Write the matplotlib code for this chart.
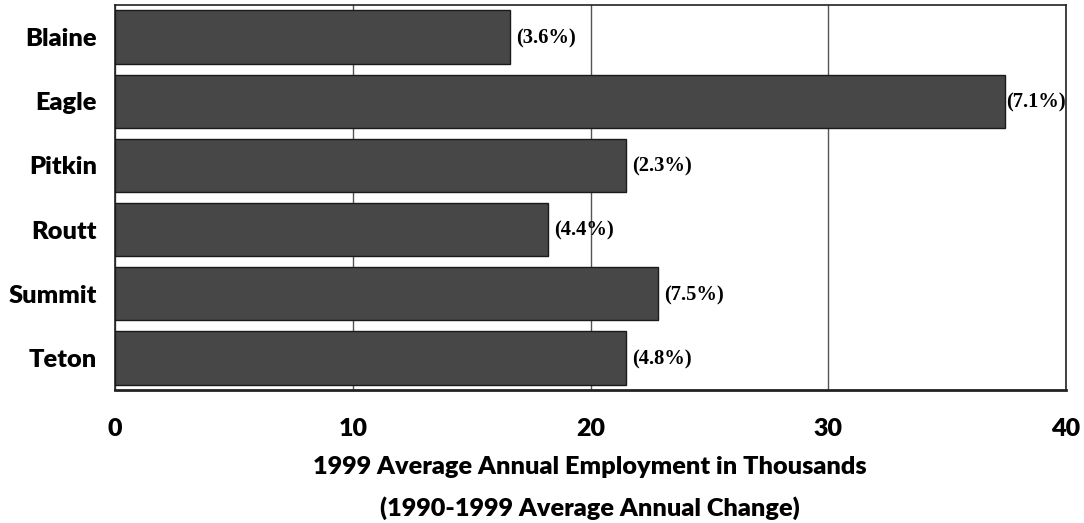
import matplotlib.pyplot as plt
import numpy as np

# 1999 employment (thousands) and 1990-1999 average annual change
counties = ['Blaine', 'Eagle', 'Pitkin', 'Routt', 'Summit', 'Teton']
employment = [16.6, 37.45, 21.5, 18.2, 22.85, 21.5]
change_pct = [3.6, 7.1, 2.3, 4.4, 7.5, 4.8]

fig = plt.figure(figsize=(10.84, 5.23), dpi=100)
ax = fig.add_axes([0.1061, 0.2543, 0.8773, 0.7361])

y = np.arange(len(counties))
ax.barh(y, employment, height=0.83, color='#474747',
        edgecolor='#1a1a1a', linewidth=1.0, zorder=3)

# change labels; the long Eagle bar gets its label pulled in tight
for yi, val, pct in zip(y, employment, change_pct):
    pad = 0.5 if val > 35 else 4.5
    ax.annotate('(%.1f%%)' % pct, xy=(val, yi), xytext=(pad, -1),
                textcoords='offset points', ha='left', va='center',
                fontfamily='Liberation Serif', fontweight='bold',
                fontsize=14.8, zorder=4)

ax.set_xlim(0, 40)
ax.set_ylim(len(counties) - 0.5, -0.5)
ax.set_xticks([0, 10, 20, 30, 40])
ax.set_yticks(y)
ax.set_yticklabels(counties)
ax.xaxis.grid(True, color='#555555', linewidth=1.0, zorder=0)
ax.tick_params(length=0)
ax.tick_params(axis='x', pad=20)
ax.tick_params(axis='y', pad=13)
for lab in ax.get_yticklabels():
    lab.set_fontfamily('Lato')
    lab.set_fontweight('heavy')
    lab.set_fontsize(18.3)
for lab in ax.get_xticklabels():
    lab.set_fontfamily('Lato')
    lab.set_fontweight('heavy')
    lab.set_fontsize(18)

for side in ['top', 'right', 'left']:
    ax.spines[side].set_linewidth(1.2)
    ax.spines[side].set_color('#222222')
ax.spines['bottom'].set_linewidth(2.0)
ax.spines['bottom'].set_color('#222222')

fig.text(0.544, 0.107, '1999 Average Annual Employment in Thousands',
         ha='center', va='center', fontfamily='Lato', fontweight='heavy',
         fontsize=18.2)
fig.text(0.544, 0.029, '(1990-1999 Average Annual Change)',
         ha='center', va='center', fontfamily='Lato', fontweight='heavy',
         fontsize=18.2)

fig.savefig('out.png', dpi=100)
